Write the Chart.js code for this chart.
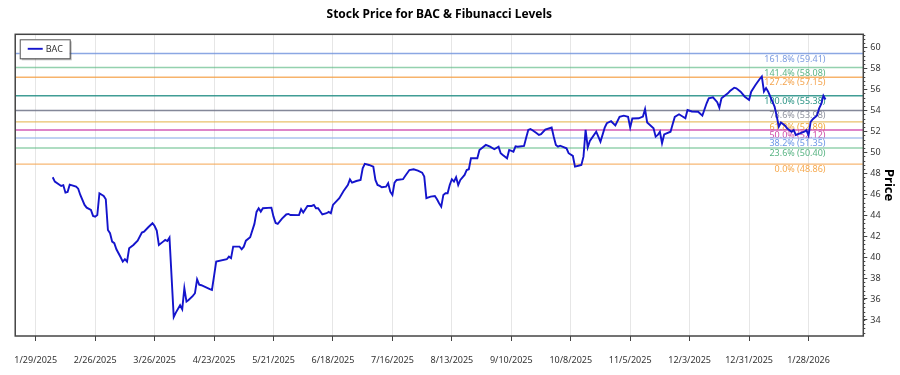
<!DOCTYPE html>
<html><head><meta charset="utf-8">
<script src="https://cdn.jsdelivr.net/npm/chart.js@4.4.1/dist/chart.umd.min.js"></script>
<style>html,body{margin:0;padding:0;background:#fff}canvas{display:block}</style>
</head><body>
<canvas id="c" width="900" height="375"></canvas>
<script>
const chartTitle = 'Stock Price for BAC & Fibunacci Levels';
const seriesName = 'BAC';
const yAxisTitle = 'Price';

const dates = [
'2025-02-06','2025-02-07','2025-02-10','2025-02-11','2025-02-12','2025-02-13','2025-02-14','2025-02-17','2025-02-18','2025-02-19',
'2025-02-21','2025-02-22','2025-02-24','2025-02-25','2025-02-26','2025-02-27','2025-02-28','2025-03-02','2025-03-03','2025-03-04',
'2025-03-05','2025-03-06','2025-03-07','2025-03-08','2025-03-10','2025-03-11','2025-03-12','2025-03-13','2025-03-14','2025-03-16',
'2025-03-18','2025-03-20','2025-03-21','2025-03-23','2025-03-25','2025-03-26','2025-03-27','2025-03-28','2025-03-30','2025-03-31',
'2025-04-01','2025-04-02','2025-04-04','2025-04-05','2025-04-07','2025-04-08','2025-04-09','2025-04-10','2025-04-11','2025-04-13',
'2025-04-14','2025-04-15','2025-04-16','2025-04-17','2025-04-21','2025-04-22','2025-04-23','2025-04-24','2025-04-29','2025-04-30',
'2025-05-01','2025-05-02','2025-05-05','2025-05-06','2025-05-07','2025-05-08','2025-05-10','2025-05-12','2025-05-13','2025-05-14',
'2025-05-15','2025-05-16','2025-05-20','2025-05-21','2025-05-22','2025-05-23','2025-05-25','2025-05-27','2025-05-28','2025-05-29',
'2025-06-02','2025-06-03','2025-06-04','2025-06-06','2025-06-08','2025-06-09','2025-06-10','2025-06-11','2025-06-13','2025-06-15',
'2025-06-16','2025-06-17','2025-06-18','2025-06-21','2025-06-23','2025-06-25','2025-06-26','2025-06-27','2025-06-29','2025-07-01',
'2025-07-02','2025-07-03','2025-07-05','2025-07-07','2025-07-08','2025-07-09','2025-07-10','2025-07-11','2025-07-13','2025-07-14',
'2025-07-15','2025-07-16','2025-07-17','2025-07-18','2025-07-21','2025-07-22','2025-07-24','2025-07-26','2025-07-28','2025-07-30',
'2025-07-31','2025-08-01','2025-08-03','2025-08-05','2025-08-06','2025-08-07','2025-08-08','2025-08-09','2025-08-10','2025-08-11',
'2025-08-12','2025-08-13','2025-08-14','2025-08-15','2025-08-16','2025-08-17','2025-08-19','2025-08-20','2025-08-21','2025-08-22',
'2025-08-25','2025-08-26','2025-08-29','2025-08-31','2025-09-02','2025-09-04','2025-09-05','2025-09-06','2025-09-08','2025-09-09',
'2025-09-11','2025-09-12','2025-09-13','2025-09-16','2025-09-17','2025-09-18','2025-09-19','2025-09-20','2025-09-22','2025-09-23',
'2025-09-24','2025-09-26','2025-09-29','2025-09-30','2025-10-01','2025-10-02','2025-10-03','2025-10-06','2025-10-07','2025-10-09',
'2025-10-10','2025-10-12','2025-10-13','2025-10-14','2025-10-15','2025-10-16','2025-10-17','2025-10-20','2025-10-22','2025-10-24',
'2025-10-25','2025-10-27','2025-10-29','2025-10-31','2025-11-02','2025-11-04','2025-11-05','2025-11-06','2025-11-09','2025-11-11',
'2025-11-12','2025-11-13','2025-11-16','2025-11-17','2025-11-18','2025-11-19','2025-11-20','2025-11-21','2025-11-24','2025-11-25',
'2025-11-26','2025-11-28','2025-12-01','2025-12-02','2025-12-04','2025-12-07','2025-12-09','2025-12-11','2025-12-12','2025-12-14',
'2025-12-16','2025-12-17','2025-12-18','2025-12-21','2025-12-22','2025-12-24','2025-12-25','2025-12-27','2025-12-29','2025-12-31',
'2026-01-01','2026-01-03','2026-01-05','2026-01-06','2026-01-07','2026-01-08','2026-01-09','2026-01-10','2026-01-11','2026-01-12',
'2026-01-13','2026-01-14','2026-01-15','2026-01-17','2026-01-18','2026-01-20','2026-01-21','2026-01-22','2026-01-24','2026-01-26',
'2026-01-27','2026-01-28','2026-01-29','2026-01-30','2026-02-01','2026-02-02','2026-02-03','2026-02-04','2026-02-05'
];

const prices = [
47.61,47.19,46.78,46.85,46.14,46.20,46.90,46.71,46.52,45.92,
44.97,44.71,44.49,43.92,43.85,44.01,46.08,45.82,45.51,42.58,
42.27,41.47,41.32,40.74,39.98,39.56,39.79,39.56,40.84,41.15,
41.56,42.33,42.42,42.84,43.22,42.96,42.52,41.15,41.47,41.63,
41.53,41.85,34.28,34.70,35.40,35.02,37.03,35.75,35.91,36.29,
36.55,37.88,37.37,37.31,36.93,36.86,38.20,39.56,39.79,40.04,
39.89,40.99,40.99,40.74,40.99,41.56,41.89,43.16,44.30,44.65,
44.33,44.65,44.71,43.85,43.25,43.16,43.66,44.06,44.11,44.01,
44.00,44.56,44.25,44.87,44.87,44.97,44.65,44.65,44.06,44.18,
44.30,44.18,44.97,45.61,46.30,46.87,47.40,47.09,47.25,47.35,
48.47,48.88,48.78,48.62,47.35,46.87,46.78,46.65,46.71,47.04,
46.23,45.92,47.09,47.35,47.42,47.73,48.30,48.37,48.24,48.05,
47.67,45.61,45.76,45.82,45.51,45.13,44.80,45.92,46.08,46.08,
46.87,47.42,47.19,47.61,46.87,47.35,47.83,48.30,48.37,49.42,
49.42,50.21,50.69,50.52,50.28,50.52,49.90,49.73,49.42,50.21,
50.05,50.56,50.52,50.59,51.38,52.12,52.21,52.09,51.80,51.64,
51.71,52.16,52.35,51.48,50.69,50.52,50.62,50.37,49.90,49.64,
48.62,48.73,48.78,49.57,52.12,50.45,51.07,51.95,51.00,52.34,
52.76,52.95,52.55,53.38,53.48,53.38,52.35,53.21,53.23,53.40,
54.10,52.83,52.28,51.48,51.64,51.95,50.85,51.69,51.95,52.66,
53.36,53.61,53.23,54.02,53.88,53.86,53.48,54.66,55.14,55.23,
54.76,54.24,55.14,55.61,55.83,56.15,56.09,55.77,55.29,54.98,
55.77,56.41,56.98,57.22,55.79,56.12,55.77,55.29,54.81,54.34,
53.45,52.43,52.83,52.53,52.26,51.95,52.12,51.64,51.80,51.95,
52.10,51.60,52.88,53.14,53.50,54.17,54.59,55.38,55.02
];

const fibRatios = ['161.8%','141.4%','127.2%','100.0%','78.6%','61.8%','50.0%','38.2%','23.6%','0.0%'];
const fibValues = [59.41,58.08,57.15,55.38,53.98,52.89,52.12,51.35,50.40,48.86];
const fibLineColors = ['rgba(110,145,220,0.8)','rgba(90,185,130,0.65)','rgba(245,160,70,0.8)','rgba(30,140,130,0.85)','rgba(110,115,135,0.85)','rgba(228,178,70,0.8)','rgba(200,50,165,0.8)','rgba(150,180,235,0.8)','rgba(90,185,130,0.65)','rgba(245,165,80,0.8)'];
const fibTextColors = ['#7b9be0','#5ab585','#f4a44e','#2a9485','#8f929e','#f0a838','#cf4aa6','#6b96e6','#58b483','#f6a94e'];

const xTickDates = ['2025-01-29','2025-02-26','2025-03-26','2025-04-23','2025-05-21','2025-06-18','2025-07-16','2025-08-13','2025-09-10','2025-10-08','2025-11-05','2025-12-03','2025-12-31','2026-01-28'];
const yTickValues = [34,36,38,40,42,44,46,48,50,52,54,56,58,60];

const FONT = '"Noto Sans", "Open Sans", sans-serif';
const toDay = s => { const p = s.split('-').map(Number); return Date.UTC(p[0], p[1]-1, p[2]) / 864e5; };
const fmtDay = v => { const d = new Date(Math.round(v) * 864e5); return (d.getUTCMonth()+1) + '/' + d.getUTCDate() + '/' + d.getUTCFullYear(); };

const xMin = toDay(xTickDates[0]) - 9.66;
const xMax = toDay(xTickDates[xTickDates.length-1]) + 25.8;
const yMin = 32.47, yMax = 61.24;

const datasets = [{
  label: seriesName,
  data: dates.map((d, i) => ({x: toDay(d), y: prices[i]})),
  borderColor: '#1414cc',
  borderWidth: 1.9,
  pointRadius: 0,
  tension: 0,
  order: 0
}];
fibValues.forEach((v, i) => {
  datasets.push({
    label: fibRatios[i],
    data: [{x: xMin, y: v}, {x: xMax, y: v}],
    borderColor: fibLineColors[i],
    borderWidth: 1.4,
    pointRadius: 0,
    order: 1
  });
});

const fibLabelPlugin = {
  id: 'fibLabels',
  beforeDatasetsDraw(chart) {
    const {ctx, scales: {x, y}} = chart;
    const lx = x.getPixelForValue(toDay(dates[dates.length-1]));
    ctx.save();
    ctx.font = '9px ' + FONT;
    ctx.textAlign = 'right';
    ctx.textBaseline = 'top';
    fibValues.forEach((v, i) => {
      ctx.fillStyle = fibTextColors[i];
      ctx.fillText(fibRatios[i] + ' (' + v.toFixed(2) + ')', lx, y.getPixelForValue(v) + 1);
    });
    ctx.restore();
  }
};

const framePlugin = {
  id: 'frame',
  afterDraw(chart) {
    const {ctx, chartArea: a, scales: {y}} = chart;
    ctx.save();
    ctx.strokeStyle = '#444';
    ctx.lineWidth = 1;
    for (let k = Math.ceil(yMin / 0.4); k * 0.4 <= yMax; k++) {
      const py = Math.round(y.getPixelForValue(k * 0.4)) + 0.5;
      ctx.beginPath(); ctx.moveTo(a.right, py); ctx.lineTo(a.right + 2, py); ctx.stroke();
    }
    ctx.strokeStyle = '#444';
    ctx.lineWidth = 1.5;
    ctx.strokeRect(a.left, a.top, a.right - a.left, a.bottom - a.top);
    const lx = a.left + 4.5, ly = a.top + 5, w = 50, h = 19;
    ctx.fillStyle = 'rgba(0,0,0,0.25)';
    ctx.fillRect(lx + 2, ly + 2, w, h);
    ctx.fillStyle = '#fff';
    ctx.fillRect(lx, ly, w, h);
    ctx.strokeStyle = '#555';
    ctx.lineWidth = 1;
    ctx.strokeRect(lx + 0.5, ly + 0.5, w, h);
    ctx.strokeStyle = '#1414cc';
    ctx.lineWidth = 1.9;
    ctx.beginPath(); ctx.moveTo(lx + 8, ly + 9.5); ctx.lineTo(lx + 23, ly + 9.5); ctx.stroke();
    ctx.fillStyle = '#333';
    ctx.font = '9px ' + FONT;
    ctx.textAlign = 'left';
    ctx.textBaseline = 'middle';
    ctx.fillText(seriesName, lx + 26, ly + 10);
    ctx.restore();
  }
};

new Chart(document.getElementById('c'), {
  type: 'line',
  data: {datasets},
  options: {
    responsive: false,
    animation: false,
    devicePixelRatio: 1,
    layout: {padding: {left: 11.7, right: 0, top: 0, bottom: 0}},
    plugins: {
      legend: {display: false},
      tooltip: {enabled: false},
      title: {
        display: true,
        fullSize: false,
        text: chartTitle,
        color: '#000',
        font: {family: FONT, size: 12, weight: 'bold'},
        padding: {top: 7.3, bottom: 12.6}
      }
    },
    scales: {
      x: {
        type: 'linear',
        min: xMin,
        max: xMax,
        afterBuildTicks: s => { s.ticks = xTickDates.map(d => ({value: toDay(d)})); },
        afterFit: s => { s.height = 39; },
        ticks: {
          callback: v => fmtDay(v),
          autoSkip: false,
          maxRotation: 0,
          color: '#333',
          font: {family: FONT, size: 9},
          padding: 14
        },
        grid: {color: '#e6e6e6', lineWidth: 1, tickColor: '#444', tickLength: 5, drawTicks: true},
        border: {display: false}
      },
      y: {
        type: 'linear',
        position: 'right',
        min: yMin,
        max: yMax,
        afterBuildTicks: s => { s.ticks = yTickValues.map(v => ({value: v})); },
        afterFit: s => { s.width = 36.7; },
        ticks: {color: '#333', font: {family: FONT, size: 9}, padding: 3},
        grid: {drawOnChartArea: false, tickColor: '#444', tickLength: 4},
        border: {display: false},
        title: {
          display: true,
          text: yAxisTitle,
          color: '#000',
          font: {family: FONT, size: 13, weight: 'bold'},
          padding: {top: 3.9, bottom: 0}
        }
      }
    }
  },
  plugins: [fibLabelPlugin, framePlugin]
});
</script>
</body></html>
